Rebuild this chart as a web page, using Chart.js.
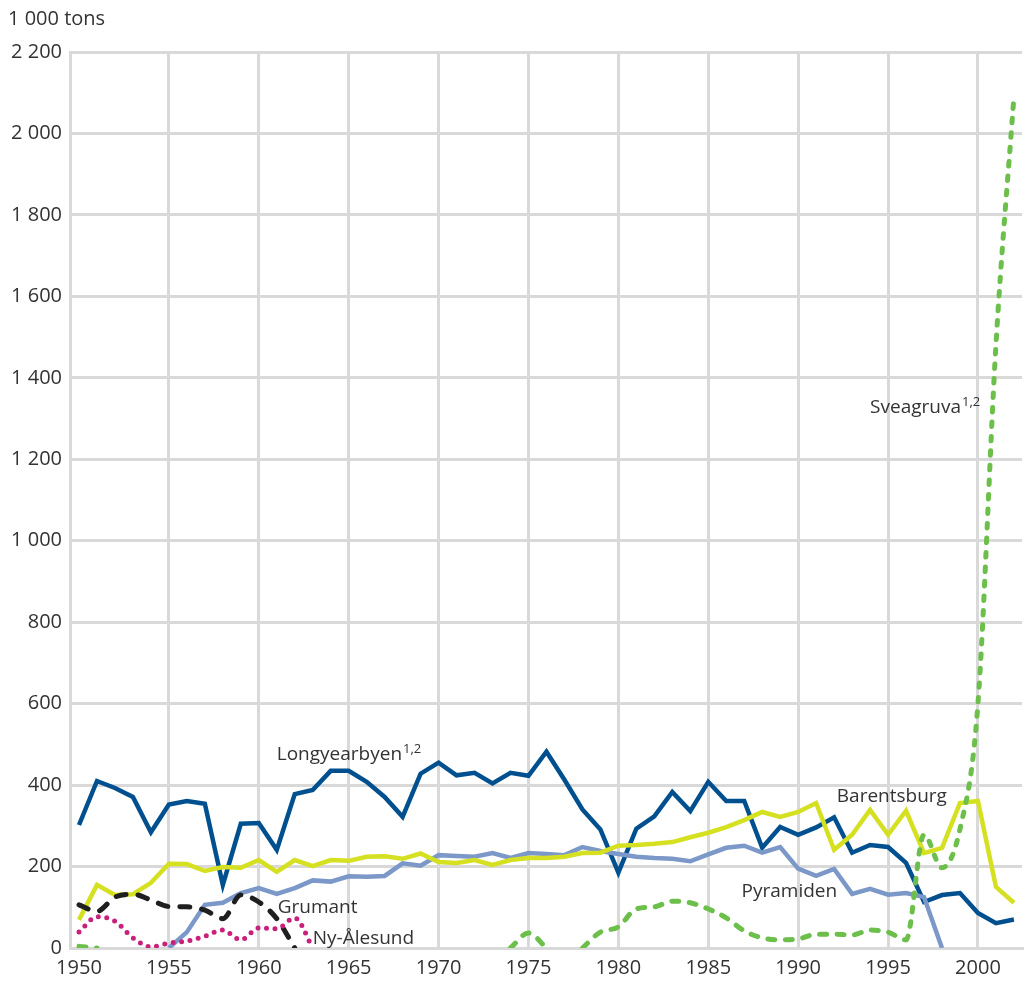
<!DOCTYPE html>
<html>
<head>
<meta charset="utf-8">
<title>Coal production, Svalbard</title>
<script src="https://cdn.jsdelivr.net/npm/chart.js@4.4.1/dist/chart.umd.min.js"></script>
<style>
  html, body { margin: 0; padding: 0; background: #ffffff; }
  canvas { display: block; }
</style>
</head>
<body>
<canvas id="chart" width="1030" height="981"></canvas>
<script>
// Coal production by mine, 1 000 tons
const years = [1950,1951,1952,1953,1954,1955,1956,1957,1958,1959,
               1960,1961,1962,1963,1964,1965,1966,1967,1968,1969,
               1970,1971,1972,1973,1974,1975,1976,1977,1978,1979,
               1980,1981,1982,1983,1984,1985,1986,1987,1988,1989,
               1990,1991,1992,1993,1994,1995,1996,1997,1998,1999,
               2000,2001,2002];

const longyearbyen = [302,410,393,371,284,352,361,354,155,305,
                      307,241,378,388,435,435,408,371,322,428,
                      455,424,430,404,430,423,482,413,340,291,
                      185,293,323,383,336,408,361,361,246,297,
                      278,296,321,234,253,248,209,113,130,135,
                      86,61,70];

const barentsburg = [69,155,130,132,160,207,206,189,199,197,
                     216,187,216,201,216,214,224,225,219,232,
                     211,209,216,204,216,221,221,224,233,234,
                     251,253,256,260,272,283,297,314,334,322,
                     334,356,241,278,339,278,337,233,246,356,
                     361,150,111];

const pyramiden = [null,null,null,null,null,0,39,106,111,135,
                   147,133,147,166,163,176,175,177,208,202,
                   228,226,224,233,221,233,231,228,248,238,
                   231,224,221,219,213,230,246,251,234,248,
                   195,177,194,133,145,131,135,125,0,null,
                   null,null,null];

const grumant = [106,90,125,132,118,102,101,93,72,130,
                 113,72,0,null,null,null,null,null,null,null,
                 null,null,null,null,null,null,null,null,null,null,
                 null,null,null,null,null,null,null,null,null,null,
                 null,null,null,null,null,null,null,null,null,null,
                 null,null,null];

const nyAlesund = [39,77,66,25,3,12,17,29,44,20,
                   49,47,74,0,null,null,null,null,null,null,
                   null,null,null,null,null,null,null,null,null,null,
                   null,null,null,null,null,null,null,null,null,null,
                   null,null,null,null,null,null,null,null,null,null,
                   null,null,null];

const sveagruva = [4,0,null,null,null,null,null,null,null,null,
                   null,null,null,null,null,null,null,null,null,null,
                   null,null,null,null,0,37,0,null,0,39,
                   52,96,101,115,111,96,74,42,25,20,
                   22,34,34,32,44,39,20,278,197,292,
                   600,1480,2090];

const xTicks = [1950,1955,1960,1965,1970,1975,1980,1985,1990,1995,2000];
const yTicks = [0,200,400,600,800,1000,1200,1400,1600,1800,2000,2200];
const unitLabel = '1 000 tons';

// Series names placed next to their lines (x in years, y in 1 000 tons)
const seriesLabels = [
  { text: 'Longyearbyen', sup: '1,2', x: 1961.0, y: 462 },
  { text: 'Barentsburg',  sup: '',    x: 1992.15, y: 359 },
  { text: 'Pyramiden',    sup: '',    x: 1986.85, y: 125 },
  { text: 'Grumant',      sup: '',    x: 1961.05, y: 86 },
  { text: 'Ny-Ålesund',   sup: '',    x: 1963.0, y: 10 },
  { text: 'Sveagruva',    sup: '1,2', x: 1994.0, y: 1314 }
];

const FONT = "'Open Sans', 'DejaVu Sans', sans-serif";
const TEXT = '#333333';
const GRID = '#d9d9d9';

const toPoints = arr => years.map((yr, i) => ({ x: yr, y: arr[i] }));
const spaced = v => String(v).replace(/\B(?=(\d{3})+(?!\d))/g, ' ');

const textPlugin = {
  id: 'textLayer',
  afterDraw(chart) {
    const ctx = chart.ctx;
    const xs = chart.scales.x, ys = chart.scales.y;
    ctx.save();
    ctx.fillStyle = TEXT;
    ctx.textBaseline = 'alphabetic';
    ctx.textAlign = 'left';
    ctx.font = '20px ' + FONT;
    ctx.fillText(unitLabel, 8, 25);
    seriesLabels.forEach(l => {
      const px = xs.getPixelForValue(l.x);
      const py = ys.getPixelForValue(l.y);
      ctx.font = '19px ' + FONT;
      ctx.fillText(l.text, px, py);
      if (l.sup) {
        const w = ctx.measureText(l.text).width;
        ctx.font = '13px ' + FONT;
        ctx.fillText(l.sup, px + w + 1, py - 7);
      }
    });
    ctx.restore();
  }
};

const svDash = ctx => (ctx.p0.parsed.x >= 1996 ? [4.5, 10] : [7, 10.5]);

new Chart(document.getElementById('chart'), {
  type: 'line',
  data: {
    datasets: [
      { label: 'Sveagruva', data: toPoints(sveagruva), borderColor: '#6cbf4a',
        borderWidth: 5, borderCapStyle: 'round', borderDash: [7, 10.5],
        cubicInterpolationMode: 'monotone', segment: { borderDash: svDash } },
      { label: 'Ny-Ålesund', data: toPoints(nyAlesund), borderColor: '#c8217c',
        borderWidth: 5, borderCapStyle: 'round', borderDash: [0, 8.5],
        cubicInterpolationMode: 'monotone' },
      { label: 'Grumant', data: toPoints(grumant), borderColor: '#1f1f1f',
        borderWidth: 5, borderCapStyle: 'round', borderDash: [10, 12],
        cubicInterpolationMode: 'monotone' },
      { label: 'Barentsburg', data: toPoints(barentsburg), borderColor: '#d5e021',
        borderWidth: 4.5 },
      { label: 'Pyramiden', data: toPoints(pyramiden), borderColor: '#7b98c8',
        borderWidth: 4.5 },
      { label: 'Longyearbyen', data: toPoints(longyearbyen), borderColor: '#00508f',
        borderWidth: 4.5 }
    ]
  },
  options: {
    responsive: false,
    animation: false,
    devicePixelRatio: 1,
    spanGaps: false,
    layout: { padding: { top: 52, right: 8, left: 0, bottom: 0 } },
    elements: { point: { radius: 0, hoverRadius: 0 }, line: { tension: 0, fill: false } },
    plugins: { legend: { display: false }, tooltip: { enabled: false }, title: { display: false } },
    scales: {
      x: {
        type: 'linear',
        min: 1949.5,
        max: 2002.45,
        afterBuildTicks: s => { s.ticks = xTicks.map(v => ({ value: v })); },
        afterFit: s => { s.height = 33; },
        grid: {
          color: c => (c.tick && c.tick.value === 1950 ? 'rgba(0,0,0,0)' : GRID),
          lineWidth: 3,
          drawTicks: false
        },
        border: { display: true, color: GRID, width: 3 },
        ticks: { font: { size: 20, family: FONT }, color: TEXT, padding: 8,
                 maxRotation: 0, autoSkip: false, callback: v => String(v) }
      },
      y: {
        type: 'linear',
        min: 0,
        max: 2200,
        afterBuildTicks: s => { s.ticks = yTicks.map(v => ({ value: v })); },
        afterFit: s => { s.width = 70; },
        grid: { color: GRID, lineWidth: 3, drawTicks: false },
        border: { display: true, color: GRID, width: 3 },
        ticks: { font: { size: 20, family: FONT }, color: TEXT, padding: 8,
                 autoSkip: false, callback: v => spaced(v) }
      }
    }
  },
  plugins: [textPlugin]
});
</script>
</body>
</html>
